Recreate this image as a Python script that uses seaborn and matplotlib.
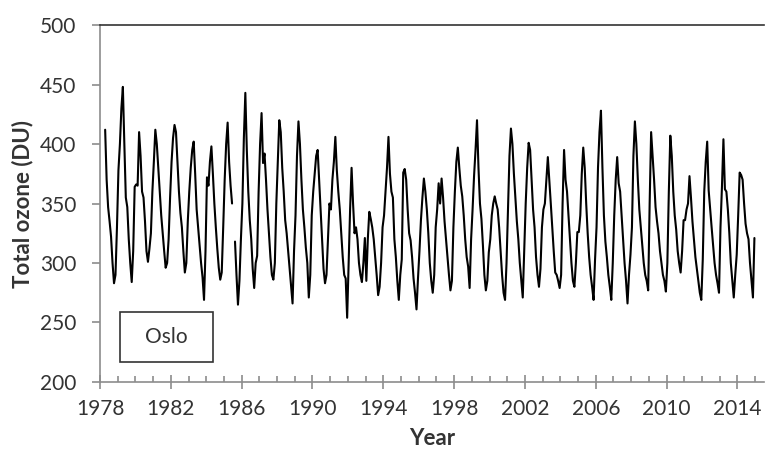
import matplotlib.pyplot as plt
import matplotlib.patches as mpatches
from matplotlib.ticker import MultipleLocator, FixedLocator
import numpy as np
import pandas as pd
import seaborn as sns

# Monthly total ozone over Oslo (DU), Apr 1978 - Dec 2014
first_month = '1978-04'
ozone = [
    412, 370, 347, 335, 322, 300, 283, 290, 330,                # 1978 (Apr-Dec)
    378, 400, 430, 448, 400, 355, 347, 320, 300, 284, 310, 364,  # 1979
    366, 365, 410, 390, 360, 355, 335, 310, 301, 312, 325, 360,  # 1980
    385, 412, 400, 380, 360, 340, 325, 310, 296, 300, 320, 355,  # 1981
    385, 405, 416, 410, 385, 360, 342, 330, 310, 292, 300, 335,  # 1982
    360, 380, 395, 402, 375, 345, 330, 315, 300, 288, 269, 310,  # 1983
    372, 365, 385, 398, 375, 350, 330, 312, 296, 286, 292, 330,  # 1984
    370, 400, 418, 385, 365, 350, np.nan, 318, 290, 265, 285, 320,  # 1985
    350, 405, 443, 395, 360, 336, 320, 295, 279, 300, 306, 360,  # 1986
    400, 426, 384, 392, 370, 345, 325, 305, 290, 286, 300, 350,  # 1987
    385, 420, 410, 380, 360, 336, 325, 310, 295, 280, 266, 310,  # 1988
    340, 390, 419, 400, 370, 345, 330, 313, 300, 271, 290, 340,  # 1989
    360, 375, 390, 395, 370, 345, 320, 295, 283, 290, 320, 350,  # 1990
    345, 370, 385, 406, 378, 360, 345, 325, 305, 290, 287, 254,  # 1991
    300, 345, 380, 350, 325, 330, 320, 300, 290, 284, 300, 321,  # 1992
    285, 320, 343, 337, 330, 320, 305, 290, 273, 280, 300, 330,  # 1993
    340, 360, 380, 406, 375, 360, 355, 320, 305, 285, 269, 290,  # 1994
    303, 376, 379, 370, 345, 325, 319, 305, 287, 275, 261, 287,  # 1995
    310, 336, 355, 371, 360, 345, 325, 300, 285, 275, 290, 330,  # 1996
    345, 367, 350, 371, 355, 335, 320, 305, 290, 277, 285, 330,  # 1997
    360, 385, 397, 380, 365, 356, 340, 320, 305, 297, 279, 320,  # 1998
    345, 373, 395, 420, 380, 350, 337, 315, 290, 277, 285, 309,  # 1999
    320, 340, 350, 356, 350, 345, 330, 310, 290, 275, 269, 300,  # 2000
    344, 390, 413, 400, 375, 355, 335, 320, 300, 285, 271, 310,  # 2001
    350, 380, 401, 395, 370, 345, 330, 305, 290, 280, 295, 330,  # 2002
    345, 350, 370, 389, 370, 350, 330, 310, 292, 290, 285, 279,  # 2003
    290, 350, 395, 370, 360, 340, 320, 300, 285, 280, 300, 326,  # 2004
    326, 340, 375, 397, 380, 350, 325, 305, 290, 280, 269, 303,  # 2005
    330, 380, 410, 428, 380, 340, 318, 305, 290, 280, 269, 300,  # 2006
    340, 370, 389, 367, 360, 340, 320, 300, 285, 266, 290, 307,  # 2007
    330, 390, 419, 400, 370, 345, 330, 315, 300, 290, 285, 277,  # 2008
    350, 410, 390, 370, 347, 335, 325, 310, 300, 290, 285, 276,  # 2009
    300, 360, 407, 390, 360, 340, 328, 310, 300, 292, 310, 336,  # 2010
    336, 345, 350, 373, 355, 335, 320, 305, 295, 285, 275, 269,  # 2011
    303, 360, 385, 402, 361, 345, 330, 315, 300, 290, 283, 275,  # 2012
    330, 364, 404, 362, 360, 345, 325, 300, 285, 271, 290, 307,  # 2013
    340, 376, 374, 370, 350, 333, 325, 320, 300, 285, 271, 321,  # 2014
]
year_ticks = list(range(1978, 2015, 4))
ozone_ticks = [200, 250, 300, 350, 400, 450, 500]
station = 'Oslo'

# Build the frame (decimal year at mid-month, break the line at missing months)
dates = pd.date_range(first_month, periods=len(ozone), freq='MS')
df = pd.DataFrame({'date': dates, 'ozone': ozone})
df['year'] = df['date'].dt.year + (df['date'].dt.month - 0.5) / 12
df['segment'] = df['ozone'].isna().cumsum()
df = df.dropna()

sns.set_style('ticks')
plt.rcParams['font.family'] = ['Lato', 'DejaVu Sans']

fig = plt.figure(figsize=(7.68, 4.54), dpi=100)
ax = fig.add_axes([0.1302, 0.1586, 0.8646, 0.7863])

sns.lineplot(data=df, x='year', y='ozone', units='segment', estimator=None,
             color='black', lw=1.5, ax=ax, legend=False)

ax.set_xlim(1978, 2015.5)
ax.set_ylim(200, 500)
ax.xaxis.set_major_locator(FixedLocator(year_ticks))
ax.xaxis.set_minor_locator(MultipleLocator(1))
ax.yaxis.set_major_locator(FixedLocator(ozone_ticks))

grey = '#8c8c8c'
for side in ['left', 'bottom']:
    ax.spines[side].set_color(grey)
    ax.spines[side].set_linewidth(1.2)
ax.spines['top'].set_color('#333333')
ax.spines['top'].set_linewidth(1.2)
ax.spines['right'].set_visible(False)

ax.tick_params(axis='y', which='major', direction='out', length=6, width=1.2,
               color=grey, pad=11, labelsize=15, labelcolor='#333333')
ax.tick_params(axis='x', which='major', direction='inout', length=10, width=1.2,
               color=grey, pad=7, labelsize=15, labelcolor='#333333')
ax.tick_params(axis='x', which='minor', direction='in', length=4, width=1.2,
               color=grey)

ax.set_xlabel('Year', fontsize=16, fontweight='bold', color='#333333')
ax.set_ylabel('Total ozone (DU)', fontsize=16, fontweight='bold', color='#333333')
ax.xaxis.set_label_coords(0.5, -0.13)
ax.yaxis.set_label_coords(-0.10, 0.5)

# Station box
box = mpatches.Rectangle((0.030, 0.056), 0.140, 0.140, transform=ax.transAxes,
                         facecolor='white', edgecolor='#333333', lw=1.2, zorder=3)
ax.add_patch(box)
ax.text(0.100, 0.126, station, transform=ax.transAxes, ha='center', va='center',
        fontsize=15, color='#333333', zorder=4)

fig.savefig('out.png', dpi=100)
